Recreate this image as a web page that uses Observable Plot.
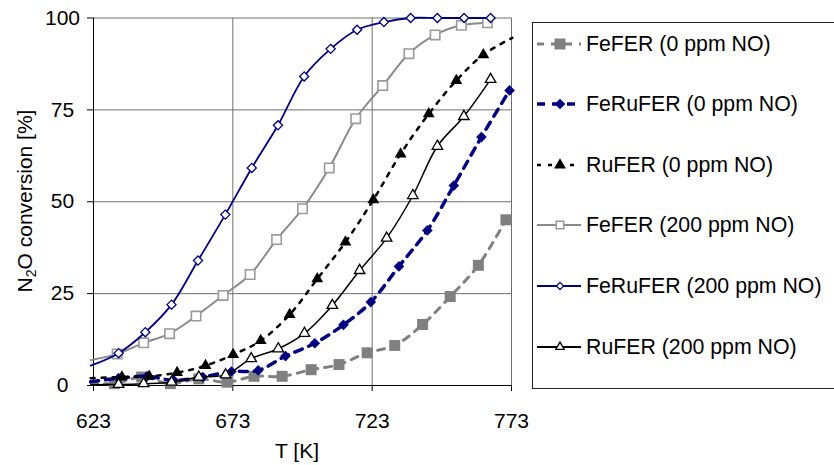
<!DOCTYPE html>
<html>
<head>
<meta charset="utf-8">
<script src="https://cdn.jsdelivr.net/npm/d3@7"></script>
<script src="https://cdn.jsdelivr.net/npm/@observablehq/plot@0.6"></script>
<style>
  body { margin: 0; background: #fff; overflow: hidden; font-family: "Liberation Sans", Arial, sans-serif; }
  #wrap { position: relative; width: 834px; height: 465px; overflow: hidden; background: #fff; }
  #legend { position: absolute; left: 532px; top: 22px; width: 330px; height: 367px; border: 1px solid #222; box-sizing: border-box; }
  #legend .row { position: absolute; left: 0; height: 24px; display: flex; align-items: center; white-space: nowrap; }
  #legend span { font-size: 21.3px; line-height: 24px; color: #000; margin-left: 1px; }
</style>
</head>
<body>
<div id="wrap"></div>
<script>
// Temperature axis ticks [K] and conversion ticks [%]
const tempTicks = [623, 673, 723, 773];
const convTicks = [0, 25, 50, 75, 100];

// FeFER, 0 ppm NO
const feFer0T = [622, 630.5, 640.3, 650.6, 660.8, 670.9, 680.6, 690.7, 701.1, 711.1, 721.2, 731.1, 741.1, 751.0, 761.1, 771.0];
const feFer0Y = [0.8, 0.5, 2.3, 0.5, 1.8, 0.9, 2.5, 2.5, 4.3, 5.7, 8.9, 10.9, 16.6, 24.2, 32.7, 45.1];

// FeRuFER, 0 ppm NO
const feRuFer0T = [622, 632, 642.2, 651.8, 662.2, 672.5, 682.1, 691.9, 702.4, 712.7, 722.5, 732.6, 742.8, 752.3, 762.2, 772.3];
const feRuFer0Y = [1.0, 2.0, 2.5, 1.4, 2.3, 3.8, 4.1, 8.0, 11.5, 16.5, 22.7, 32.4, 42.2, 54.4, 67.6, 80.3];

// RuFER, 0 ppm NO
const ruFer0T = [622, 633.2, 643, 653, 663.2, 673.1, 683, 693.4, 703.3, 713.4, 723.4, 733.2, 743.3, 753.2, 762.9, 773.3];
const ruFer0Y = [2.0, 2.3, 2.5, 3.5, 5.4, 8.4, 12.2, 19.3, 29.0, 39.0, 50.5, 63.0, 73.9, 83.0, 90.0, 94.6];

// FeFER, 200 ppm NO
const feFer200T = [622, 631.5, 641, 650.3, 659.8, 669.5, 679.2, 688.7, 698, 707.6, 717.1, 726.8, 736.2, 745.6, 755, 764.4];
const feFer200Y = [6.9, 8.6, 11.6, 14.1, 18.9, 24.5, 30.2, 39.7, 48.1, 59.2, 72.6, 81.6, 90.3, 95.4, 98.0, 98.7];

// FeRuFER, 200 ppm NO
const feRuFer200T = [622, 632, 641.6, 651, 660.5, 670.3, 679.8, 689.2, 698.6, 708.1, 717.6, 727.2, 736.8, 746.4, 756, 765.5];
const feRuFer200Y = [5.4, 8.8, 14.5, 22.0, 34.0, 46.5, 59.2, 70.8, 84.1, 91.6, 96.8, 98.9, 100, 100, 100, 100];

// RuFER, 200 ppm NO
const ruFer200T = [622, 632, 641, 651, 660.8, 670.4, 679.6, 689.3, 698.7, 708.7, 718.5, 728.2, 737.6, 746.4, 755.9, 765.5];
const ruFer200Y = [0.2, 0.3, 0.5, 0.9, 2.3, 2.9, 7.3, 10.0, 14.2, 21.8, 31.3, 40.1, 51.7, 65.1, 73.2, 83.3];

const seriesNames = [
  "FeFER (0 ppm NO)", "FeRuFER (0 ppm NO)", "RuFER (0 ppm NO)",
  "FeFER (200 ppm NO)", "FeRuFER (200 ppm NO)", "RuFER (200 ppm NO)"
];

const seriesData = [
  [feFer0T, feFer0Y], [feRuFer0T, feRuFer0Y], [ruFer0T, ruFer0Y],
  [feFer200T, feFer200Y], [feRuFer200T, feRuFer200Y], [ruFer200T, ruFer200Y]
];

// Line and marker style of each series
const styles = [
  { stroke: "#808080", width: 3,   dash: "7,7", symbol: "square",   fill: "#808080", mstroke: "#808080", r: 6.2, msw: 0 },
  { stroke: "#000080", width: 3.5, dash: "8,7", symbol: "diamond2", fill: "#000080", mstroke: "#000080", r: 4.8, msw: 0 },
  { stroke: "#000000", width: 2.5, dash: "4,7", symbol: "triangle", fill: "#000000", mstroke: "#000000", r: 4.4, msw: 0 },
  { stroke: "#8a8a8a", width: 2,   dash: null,  symbol: "square",   fill: "#ffffff", mstroke: "#9a9a9a", r: 5.3, msw: 1.6 },
  { stroke: "#000080", width: 1.8, dash: null,  symbol: "diamond2", fill: "#ffffff", mstroke: "#000080", r: 4.1, msw: 1.3 },
  { stroke: "#000000", width: 1.5, dash: null,  symbol: "triangle", fill: "#ffffff", mstroke: "#000000", r: 3.9, msw: 1.3 }
];

const series = seriesNames.map((name, i) => ({
  name,
  rows: seriesData[i][0].map((t, j) => ({ t, v: seriesData[i][1][j] })),
  ...styles[i]
}));

const [tMin, tMax] = [tempTicks[0], tempTicks[tempTicks.length - 1]];

const marks = [
  Plot.ruleY(convTicks.filter(d => d > 0), { stroke: "#6f6f6f", strokeWidth: 1 }),
  Plot.ruleX(tempTicks.filter(d => d > tMin), { stroke: "#6f6f6f", strokeWidth: 1 }),
  Plot.ruleX([tMin], { stroke: "#000", strokeWidth: 1 }),
  Plot.ruleY([0], { stroke: "#000", strokeWidth: 1 }),
  Plot.axisX({ ticks: tempTicks, tickSize: 6, tickPadding: 21.5, fontSize: 21, label: null, tickFormat: d => String(d) }),
  Plot.axisY({ ticks: convTicks, tickSize: 6, tickPadding: 25, textAnchor: "middle", fontSize: 21, label: null })
];

for (const s of series) {
  marks.push(Plot.line(s.rows, {
    x: "t", y: "v", curve: "catmull-rom",
    stroke: s.stroke, strokeWidth: s.width, strokeDasharray: s.dash || undefined
  }));
  marks.push(Plot.dot(s.rows.filter(d => d.t >= tMin && d.t <= tMax), {
    x: "t", y: "v", symbol: s.symbol, r: s.r,
    fill: s.fill, stroke: s.mstroke, strokeWidth: s.msw
  }));
}

const chart = Plot.plot({
  width: 834,
  height: 465,
  marginLeft: 93,
  marginRight: 323,
  marginTop: 17.5,
  marginBottom: 80,
  x: { domain: [tMin, tMax] },
  y: { domain: [0, 100] },
  style: { fontFamily: '"Liberation Sans", Arial, sans-serif', fontSize: "21px", color: "#000", background: "#fff", overflow: "visible" },
  marks
});

const wrap = document.getElementById("wrap");
wrap.appendChild(chart);

// Axis titles
const svg = d3.select(chart);
const yTitle = svg.append("text")
  .attr("transform", "translate(32,201) rotate(-90)")
  .attr("text-anchor", "middle")
  .attr("font-size", 21)
  .attr("fill", "#000");
yTitle.append("tspan").text("N");
yTitle.append("tspan").text("2").attr("font-size", 14).attr("dy", 4);
yTitle.append("tspan").text("O conversion [%]").attr("dy", -4);

svg.append("text")
  .attr("x", 297).attr("y", 457.5)
  .attr("text-anchor", "middle")
  .attr("font-size", 21)
  .attr("fill", "#000")
  .text("T [K]");

// Legend box at the right
const symbolTypes = { square: d3.symbolSquare, diamond2: d3.symbolDiamond2, triangle: d3.symbolTriangle };
const legend = d3.select(wrap).append("div").attr("id", "legend");
series.forEach((s, i) => {
  const row = legend.append("div").attr("class", "row").style("top", (8.5 + i * 60.6) + "px");
  const sw = row.append("svg").attr("width", 52).attr("height", 24);
  sw.append("line")
    .attr("x1", 4).attr("x2", 48).attr("y1", 12).attr("y2", 12)
    .attr("stroke", s.stroke)
    .attr("stroke-width", s.dash ? s.width : Math.max(2, s.width))
    .attr("stroke-dasharray", s.dash);
  const rr = s.msw ? s.r * 0.8 : s.r;
  sw.append("path")
    .attr("transform", "translate(27,12)")
    .attr("d", d3.symbol(symbolTypes[s.symbol], Math.PI * rr * rr)())
    .attr("fill", s.fill)
    .attr("stroke", s.mstroke)
    .attr("stroke-width", s.msw);
  row.append("span").text(s.name);
});
</script>
</body>
</html>
